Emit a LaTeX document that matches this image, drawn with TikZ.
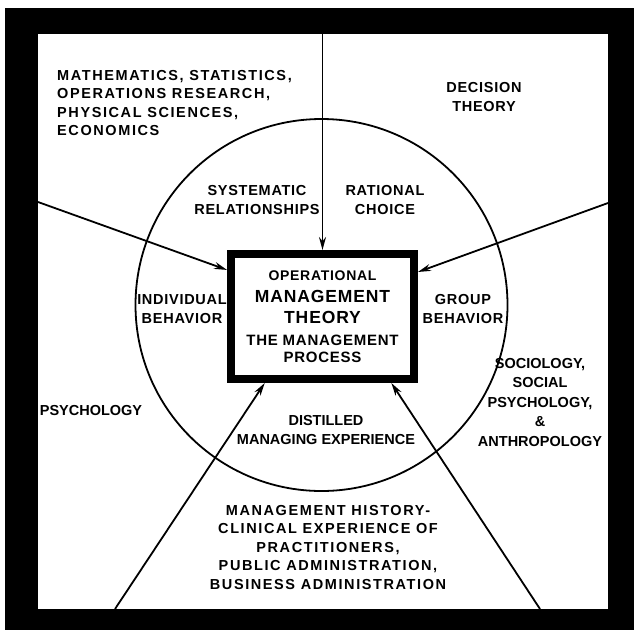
\documentclass[tikz,border=0pt]{standalone}
\usepackage{fontspec}
\newfontfamily\lettering{Liberation Sans}[LetterSpace=5]
\newfontfamily\wideletters{Liberation Sans}[LetterSpace=11]
\newfontfamily\tightletters{Liberation Sans}[LetterSpace=0]
\usetikzlibrary{arrows.meta}

\begin{document}
\begin{tikzpicture}[
      x=1pt, y=-1pt,
      lbl/.style={align=center, inner sep=0pt, font=\lettering\bfseries\fontsize{14.5}{18.5}\selectfont},
      widelbl/.style={lbl, font=\wideletters\bfseries\fontsize{14.5}{18.5}\selectfont},
      tightlbl/.style={lbl, font=\tightletters\bfseries\fontsize{14.5}{19.5}\selectfont},
      mainbox/.style={draw, line width=8pt, minimum width=183pt, minimum height=125pt, inner sep=0pt, align=center, font=\lettering\bfseries\fontsize{15}{21.5}\selectfont},
      ring/.style={draw, circle, line width=1.8pt, minimum size=372pt, inner sep=0pt},
      arr/.style={-{Stealth[length=13pt, width=7pt]}, line width=1.8pt}
  ]
    % black frame round the page
    \fill[white] (0,0) rectangle (634,630);
    \fill[black] (5,8) rectangle (634,630);
    \fill[white] (38,34) rectangle (608,609);

    \node[ring] (ring) at (321.5,305) {};
    \node[mainbox] (theory) at (322.5,316.5) {%
      \fontsize{14}{21.5}\selectfont OPERATIONAL\\
      \fontsize{17.5}{21.5}\selectfont MANAGEMENT\\
      \fontsize{17.5}{21.5}\selectfont THEORY\\
      THE MANAGEMENT\\[-4.5pt]
      PROCESS};

    \coordinate (topin) at (322.5,34);
    \coordinate (leftin) at (38,202);
    \coordinate (rightin) at (608,203);
    \coordinate (blin) at (115,609);
    \coordinate (brin) at (540,609);

    \draw[arr] (topin) -- (theory.90);
    \draw[arr] (leftin) -- (theory.154);
    \draw[arr] (rightin) -- (theory.25);
    \draw[arr] (blin) -- (theory.229);
    \draw[arr] (brin) -- (theory.316);

    \node[widelbl, align=left, anchor=west] (math) at (57,103) {MATHEMATICS, STATISTICS,\\OPERATIONS RESEARCH,\\PHYSICAL SCIENCES,\\ECONOMICS};
    \node[lbl] (decision) at (484,97) {DECISION\\THEORY};
    \node[lbl] (systematic) at (257,200) {SYSTEMATIC\\RELATIONSHIPS};
    \node[lbl] (rational) at (385,200) {RATIONAL\\CHOICE};
    \node[lbl] (individual) at (182,309) {INDIVIDUAL\\BEHAVIOR};
    \node[lbl] (group) at (463,309) {GROUP\\BEHAVIOR};
    \node[tightlbl] (psych) at (91,410) {PSYCHOLOGY};
    \node[tightlbl] (socio) at (540,402) {SOCIOLOGY,\\SOCIAL\\PSYCHOLOGY,\\\&\\ANTHROPOLOGY};
    \node[tightlbl] (distilled) at (326,430) {DISTILLED\\MANAGING EXPERIENCE};
    \node[widelbl] (history) at (328,547) {MANAGEMENT HISTORY-\\CLINICAL EXPERIENCE OF\\PRACTITIONERS,\\PUBLIC ADMINISTRATION,\\BUSINESS ADMINISTRATION};
  \end{tikzpicture}
\end{document}
